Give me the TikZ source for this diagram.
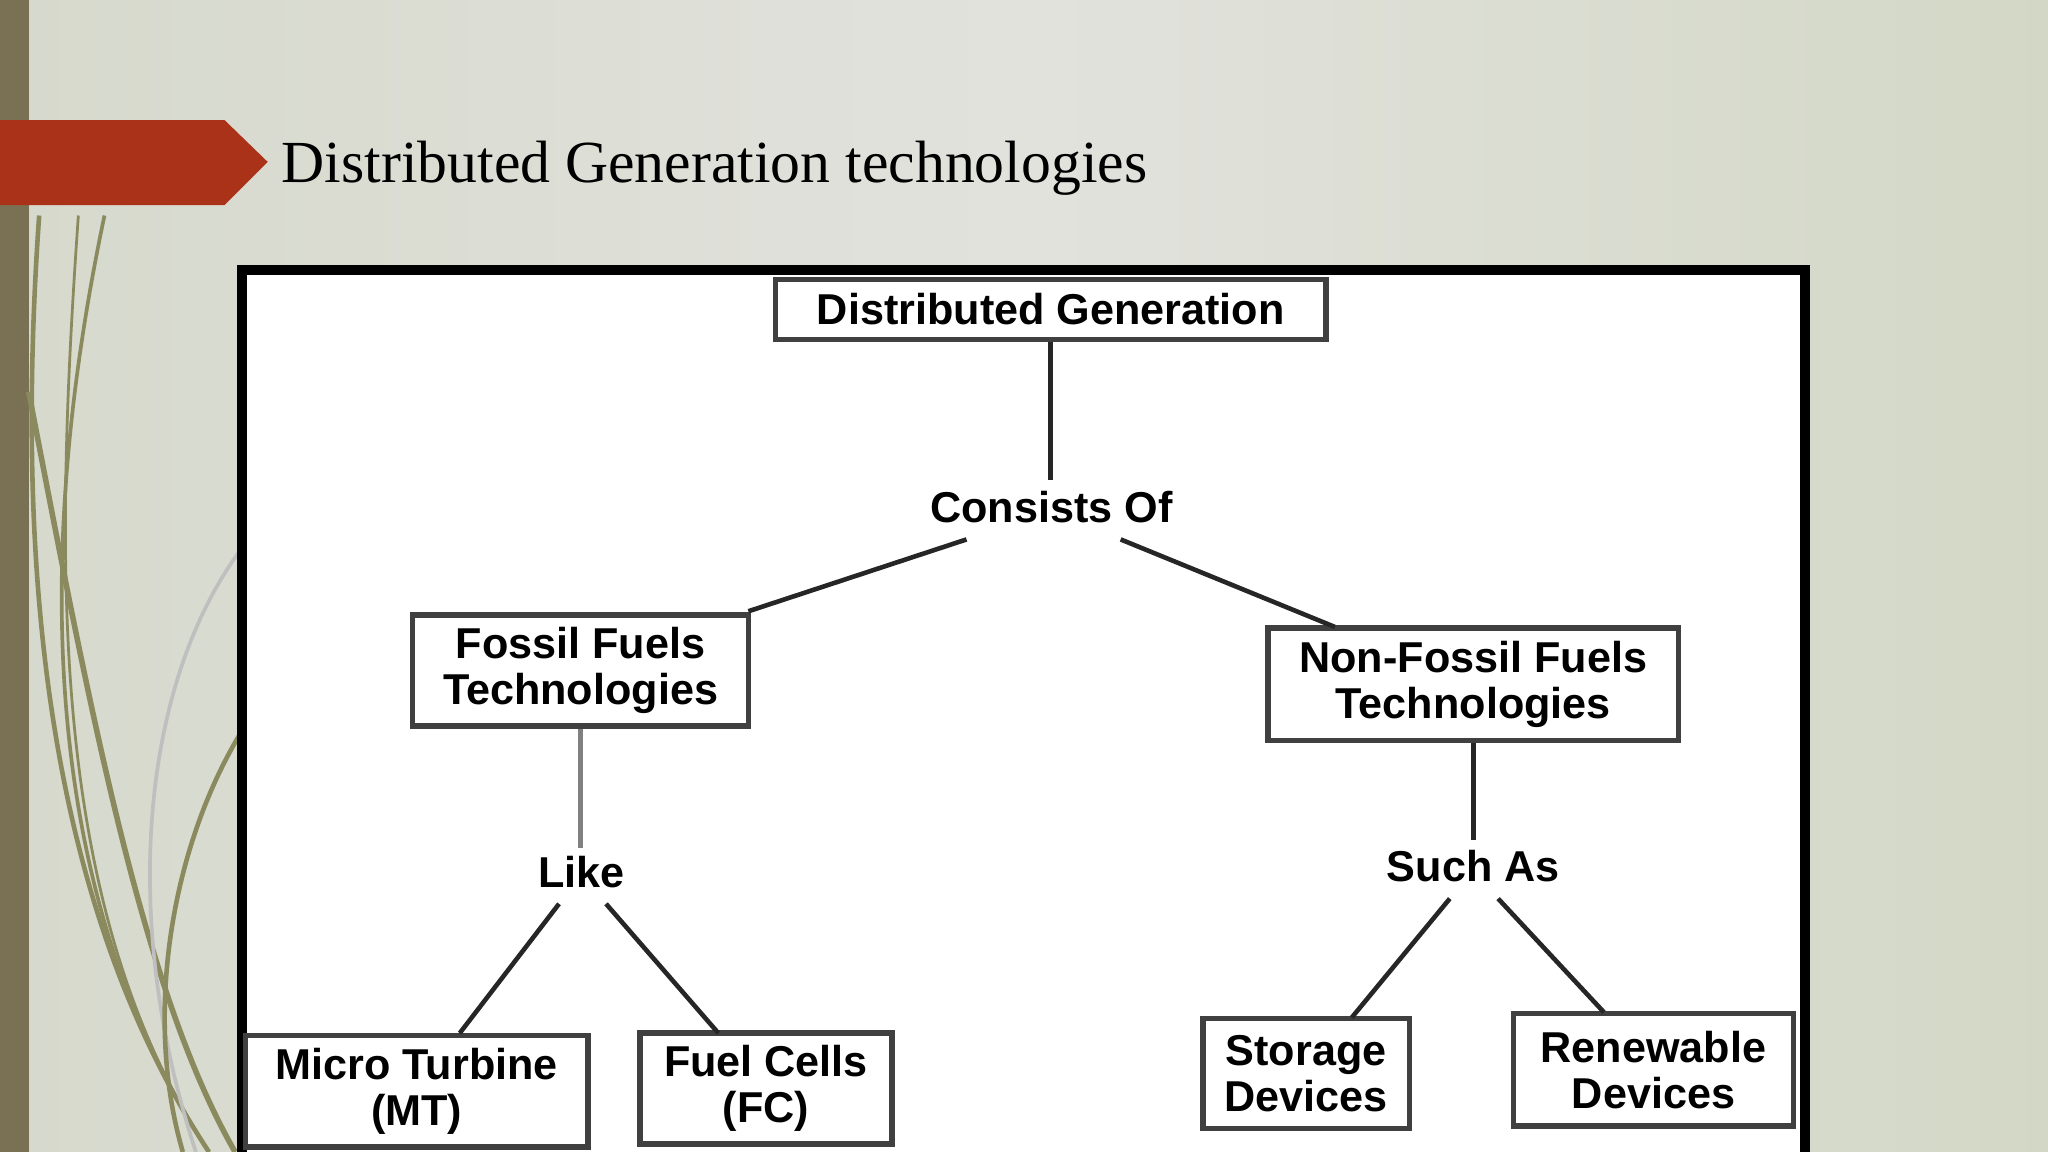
\documentclass[tikz,border=0pt]{standalone}
\usepackage{fontspec}
\setmainfont{Liberation Serif}
\newfontfamily\boxfont{Liberation Sans}
\definecolor{bgl}{HTML}{D6D9CC}
\definecolor{bgm}{HTML}{E2E2DD}
\definecolor{bgr}{HTML}{D3D8C6}
\definecolor{barc}{HTML}{7A7054}
\definecolor{banner}{HTML}{A93218}
\definecolor{curv}{HTML}{8A8A5E}
\begin{document}
\begin{tikzpicture}[x=0.01cm,y=-0.01cm,
  bx/.style={draw=black!75,line width=1.2pt,fill=white,font=\boxfont\bfseries\fontsize{9.4}{11}\selectfont,align=center,inner sep=0pt},
  lb/.style={font=\boxfont\bfseries\fontsize{9.4}{11}\selectfont,inner sep=0pt},
  ln/.style={line width=1pt,black!85}]
\useasboundingbox (0,0) rectangle (1568,882);
\shade[left color=bgl, right color=bgr, middle color=bgm] (0,0) rectangle (1568,882);
\fill[barc] (0,0) rectangle (22,882);
% decorative curves
\foreach \a/\b/\c in {80/20/0.8,60/40/0.6,30/10/1.0}{
  \draw[curv,line width=\c pt] (\a,165) .. controls (\b,450) and (40,700) .. (160,882);}
\draw[curv,line width=1.2pt] (22,300) .. controls (70,550) and (110,760) .. (180,882);
\draw[gray!50,line width=0.8pt] (185,420) .. controls (110,520) and (90,700) .. (150,882);
\draw[curv,line width=1pt] (185,560) .. controls (130,650) and (110,780) .. (140,882);
% banner
\fill[banner] (0,92) -- (172,92) -- (205,124) -- (172,157) -- (0,157) -- cycle;
\node[anchor=base west,inner sep=0pt,font=\fontsize{13}{15}\selectfont] (title) at (215,140) {Distributed Generation technologies};
% diagram frame
\draw[line width=2.2pt,fill=white] (185,207) rectangle (1382,900);
\node[bx,minimum width=4.21cm,minimum height=0.46cm] (dg) at (804.5,237) {Distributed Generation};
\node[lb] (cons) at (805,388) {Consists Of};
\node[bx,minimum width=2.57cm,minimum height=0.85cm] (ff) at (444.5,513.5) {Fossil Fuels\\[-1pt]Technologies};
\node[bx,minimum width=3.14cm,minimum height=0.86cm] (nf) at (1128,524) {Non-Fossil Fuels\\[-1pt]Technologies};
\node[lb] (like) at (445,668) {Like};
\node[lb] (such) at (1128,663) {Such As};
\node[bx,minimum width=2.62cm,minimum height=0.85cm] (mt) at (319,835.5) {Micro Turbine\\[-1pt](MT)};
\node[bx,minimum width=1.93cm,minimum height=0.85cm] (fc) at (586.5,833.5) {Fuel Cells\\[-1pt](FC)};
\node[bx,minimum width=1.58cm,minimum height=0.84cm] (sd) at (1000,822) {Storage\\[-1pt]Devices};
\node[bx,minimum width=2.14cm,minimum height=0.86cm] (rd) at (1266,819) {Renewable\\[-1pt]Devices};
\coordinate (c1) at (740,413); \coordinate (c2) at (858,413);
\coordinate (ffc) at (573,468); \coordinate (nfc) at (1022,480);
\coordinate (l1) at (428,692); \coordinate (l2) at (464,692);
\coordinate (s1) at (1110,688); \coordinate (s2) at (1147,688);
\coordinate (mtc) at (352,791); \coordinate (fcc) at (550,791);
\coordinate (sdc) at (1035,779); \coordinate (rdc) at (1228,775);
\draw[ln] (dg.south) -- ++(0,105);
\draw[ln] (c1) -- (ffc);
\draw[ln] (c2) -- (nfc);
\draw[ln,black!50] (ff.south) -- ++(0,91);
\draw[ln] (nf.south) -- ++(0,74);
\draw[ln] (l1) -- (mtc);
\draw[ln] (l2) -- (fcc);
\draw[ln] (s1) -- (sdc);
\draw[ln] (s2) -- (rdc);
\end{tikzpicture}
\end{document}
